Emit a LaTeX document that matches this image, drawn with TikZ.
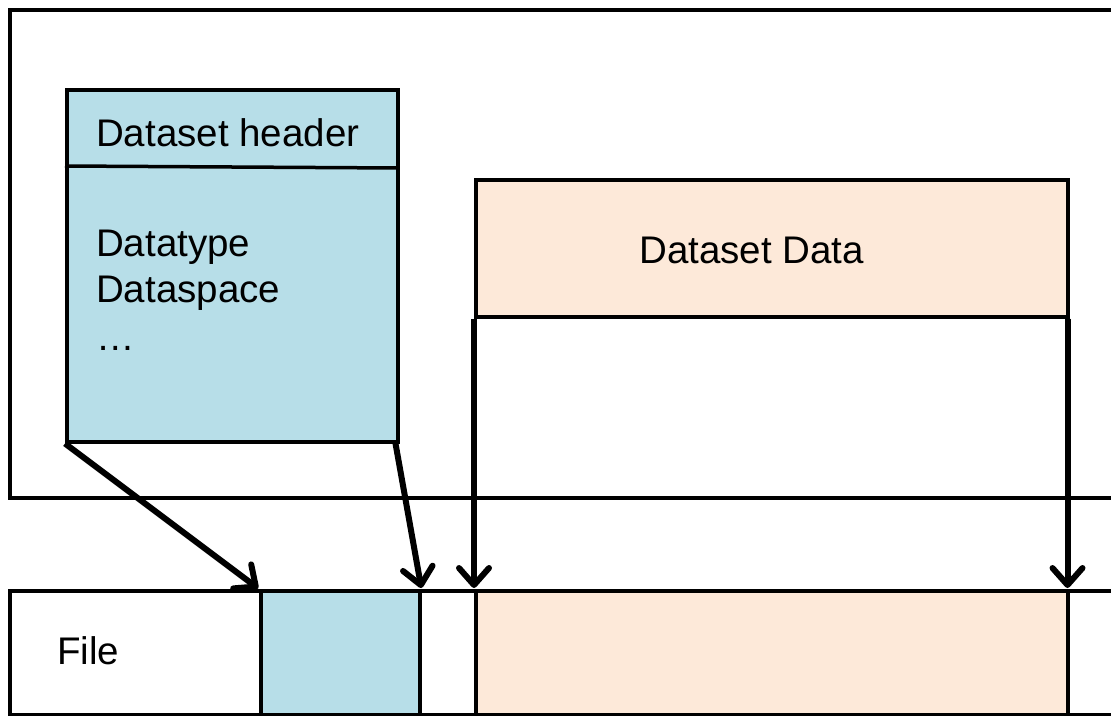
\documentclass[tikz,border=0pt]{standalone}
\usepackage{fontspec}
\setmainfont{Liberation Sans}
\usetikzlibrary{arrows.meta}
\definecolor{hdrblue}{HTML}{B7DEE8}
\definecolor{datapeach}{HTML}{FDE9D9}
\begin{document}
\begin{tikzpicture}[x=1pt,y=-1pt,
  box/.style={draw,line width=3.5pt,inner sep=0pt,anchor=north west},
  lbl/.style={inner sep=0pt,anchor=base west,font=\fontsize{38.5}{44}\selectfont},
  link/.style={line width=6pt,-{Straight Barb[length=17pt,width=30pt,line width=6pt,round]},shorten >=1pt}]
\useasboundingbox (0,0) rectangle (1111,715);
\clip (0,0) rectangle (1111,715);
% memory frame and file strip (both run past the right edge)
\node[box,minimum width=1130pt,minimum height=488pt] (mem) at (8,8) {};
\node[box,minimum width=1130pt,minimum height=124pt] (file) at (8,589) {};
% dataset header object
\node[box,fill=hdrblue,minimum width=331pt,minimum height=352pt] (hdr) at (65,88) {};
\draw[line width=3.5pt] (hdr.north west) ++(0,78) coordinate (dl) -- (hdr.north east |- 0,168) coordinate (dr);
\node[lbl] (hdrtitle) at (96,146) {Dataset header};
\node[lbl] (dtype) at (96,256) {Datatype};
\node[lbl] (dspace) at (96,302) {Dataspace};
\node[lbl] (dots) at (96,350) {\dots};
% dataset data object
\node[box,fill=datapeach,minimum width=592pt,minimum height=137pt] (data) at (474,178) {};
\node[lbl] (datatitle) at (639,263) {Dataset Data};
% pieces stored in the file
\node[box,fill=hdrblue,minimum width=159pt,minimum height=124pt] (fhdr) at (259,589) {};
\node[box,fill=datapeach,minimum width=592pt,minimum height=124pt] (fdata) at (474,589) {};
\node[lbl] (filelbl) at (57,664) {File};
% mapping arrows
\draw[link] (hdr.south west) -- (fhdr.north west);
\draw[link] ([xshift=-4pt]hdr.south east) -- (fhdr.north east);
\draw[link] (data.south west) -- (fdata.north west);
\draw[link] ([xshift=-2pt]data.south east) -- ([xshift=-2pt]fdata.north east);
\end{tikzpicture}
\end{document}
